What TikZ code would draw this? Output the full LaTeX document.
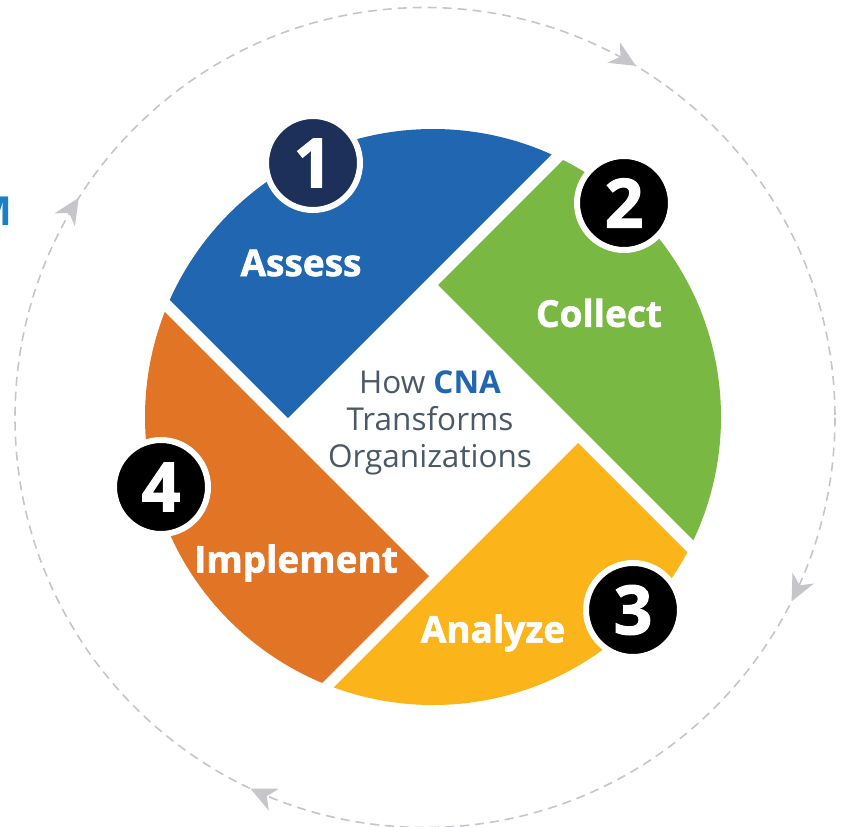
\documentclass[tikz,border=0pt]{standalone}
\usepackage{fontspec}
\setmainfont{Open Sans}
\newfontfamily\heavy{Open Sans}[BoldFeatures={FakeBold=1.6}]
\usetikzlibrary{arrows.meta,decorations.markings}
\definecolor{cblue}{HTML}{2166B0}
\definecolor{cgreen}{HTML}{7AB844}
\definecolor{cyellow}{HTML}{FBB419}
\definecolor{corange}{HTML}{E27426}
\definecolor{cnavy}{HTML}{1C3059}
\definecolor{ctext}{HTML}{4A5868}
\definecolor{cdash}{HTML}{C6C6CA}
\definecolor{cm}{HTML}{1A7FC3}
\tikzset{
  badge/.style={circle, draw=white, line width=6pt, minimum size=94pt, inner sep=0pt,
    text=white, font=\heavy\bfseries\fontsize{68}{68}\selectfont},
  lbl/.style={text=white, font=\heavy\bfseries\fontsize{37}{37}\selectfont, inner sep=0pt},
}
\begin{document}
\begin{tikzpicture}[x=1pt,y=-1pt]
\useasboundingbox (0,0) rectangle (841,827);
% outer dashed cycle
\draw[cdash, line width=1.6pt, dash pattern=on 9pt off 6pt,
  postaction={decorate},
  decoration={markings,
    mark=at position 0.074 with {\arrow[cdash]{Stealth[length=26pt,width=24pt,inset=8pt]}},
    mark=at position 0.320 with {\arrow[cdash]{Stealth[length=26pt,width=24pt,inset=8pt]}},
    mark=at position 0.590 with {\arrow[cdash]{Stealth[length=26pt,width=24pt,inset=8pt]}},
    mark=at position 0.836 with {\arrow[cdash]{Stealth[length=26pt,width=24pt,inset=8pt]}}}]
  (425,417.5) circle (410);
% pinwheel pieces
\begin{scope}
  \clip (433,417) circle (288);
  \fill[cblue]   (288,418) -- ++(-400,-400) -- ++(400,-400) -- ++(400,400) -- cycle;
  \fill[cgreen]  (438,285) -- ++(400,-400) -- ++(400,400) -- ++(-400,400) -- cycle;
  \fill[cyellow] (578,443) -- ++(400,400) -- ++(-400,400) -- ++(-400,-400) -- cycle;
  \fill[corange] (429,576) -- ++(-400,400) -- ++(-400,-400) -- ++(400,-400) -- cycle;
\end{scope}
% labels
\node[lbl] (l1) at (301,263) {Assess};
\node[lbl] (l2) at (599,313) {Collect};
\node[lbl] (l3) at (493,633) {Analyze};
\node[lbl] (l4) at (296,563) {Implement};
% centre text
\node[align=center, text=ctext, font=\fontsize{31.5}{37}\selectfont] (ctr) at (430,423)
  {How \textbf{\textcolor{cblue}{CNA}}\\Transforms\\Organizations};
% badges
\node[badge, fill=cnavy] (b1) at (313,163) {1};
\node[badge, fill=black] (b2) at (624,203) {2};
\node[badge, fill=black] (b3) at (633,610) {3};
\node[badge, fill=black] (b4) at (161,487) {4};
% clipped fragment at left edge
\node[text=cm, font=\bfseries\fontsize{40}{40}\selectfont, anchor=east, inner sep=0pt] (frag) at (12,211) {M};
\end{tikzpicture}
\end{document}
